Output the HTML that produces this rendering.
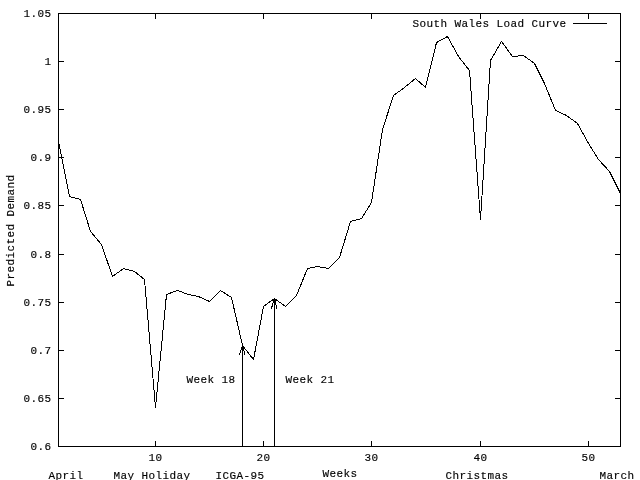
<!DOCTYPE html>
<html lang="en"><head><meta charset="utf-8"><title>South Wales Load Curve</title>
<style>
html,body{margin:0;padding:0;background:#fff;}
body{width:640px;height:480px;overflow:hidden;}
svg{display:block;will-change:transform;}
text{font-family:"Liberation Mono","DejaVu Sans Mono",monospace;font-size:11px;letter-spacing:0.4px;fill:#000;stroke:#000;stroke-width:0.15px;}
.ln{stroke:#000;stroke-width:1;fill:none;shape-rendering:crispEdges;}
</style></head><body>
<svg width="640" height="480" viewBox="0 0 640 480">
<g class="ln">
<rect x="58.5" y="13.5" width="562" height="433"/>
<line x1="58" y1="446.5" x2="64" y2="446.5"/>
<line x1="615" y1="446.5" x2="621" y2="446.5"/>
<line x1="58" y1="398.5" x2="64" y2="398.5"/>
<line x1="615" y1="398.5" x2="621" y2="398.5"/>
<line x1="58" y1="350.5" x2="64" y2="350.5"/>
<line x1="615" y1="350.5" x2="621" y2="350.5"/>
<line x1="58" y1="302.5" x2="64" y2="302.5"/>
<line x1="615" y1="302.5" x2="621" y2="302.5"/>
<line x1="58" y1="254.5" x2="64" y2="254.5"/>
<line x1="615" y1="254.5" x2="621" y2="254.5"/>
<line x1="58" y1="205.5" x2="64" y2="205.5"/>
<line x1="615" y1="205.5" x2="621" y2="205.5"/>
<line x1="58" y1="157.5" x2="64" y2="157.5"/>
<line x1="615" y1="157.5" x2="621" y2="157.5"/>
<line x1="58" y1="109.5" x2="64" y2="109.5"/>
<line x1="615" y1="109.5" x2="621" y2="109.5"/>
<line x1="58" y1="61.5" x2="64" y2="61.5"/>
<line x1="615" y1="61.5" x2="621" y2="61.5"/>
<line x1="58" y1="13.5" x2="64" y2="13.5"/>
<line x1="615" y1="13.5" x2="621" y2="13.5"/>
<line x1="155.5" y1="441" x2="155.5" y2="447"/>
<line x1="155.5" y1="13" x2="155.5" y2="19"/>
<line x1="263.5" y1="441" x2="263.5" y2="447"/>
<line x1="263.5" y1="13" x2="263.5" y2="19"/>
<line x1="371.5" y1="441" x2="371.5" y2="447"/>
<line x1="371.5" y1="13" x2="371.5" y2="19"/>
<line x1="480.5" y1="441" x2="480.5" y2="447"/>
<line x1="480.5" y1="13" x2="480.5" y2="19"/>
<line x1="588.5" y1="441" x2="588.5" y2="447"/>
<line x1="588.5" y1="13" x2="588.5" y2="19"/>
<line x1="573" y1="23.5" x2="607" y2="23.5"/>
<line x1="242.5" y1="345" x2="242.5" y2="446"/>
<line x1="242.5" y1="345" x2="239.5" y2="355"/>
<line x1="242.5" y1="345" x2="245.0" y2="355"/>
<line x1="274.5" y1="298" x2="274.5" y2="446"/>
<line x1="274.5" y1="298" x2="271.3" y2="309"/>
<line x1="274.5" y1="298" x2="276.9" y2="309"/>
<polyline points="58.5,141.5 69.5,196.5 80.5,199.5 90.5,231.5 101.5,244.5 112.5,276.5 123.5,268.5 134.5,271.5 144.5,279.5 155.5,407.5 166.5,294.5 177.5,290.5 188.5,294.5 198.5,296.5 209.5,301.5 220.5,290.5 231.5,297.5 242.5,345.5 253.5,359.5 263.5,306.5 274.5,298.5 285.5,306.5 296.5,295.5 307.5,268.5 317.5,266.5 328.5,268.5 339.5,257.5 350.5,221.5 361.5,218.5 371.5,202.5 382.5,129.5 393.5,95.5 404.5,87.5 415.5,78.5 425.5,87.5 436.5,42.5 447.5,36.5 458.5,56.5 469.5,70.5 480.5,219.5 490.5,60.5 501.5,41.5 512.5,56.5 523.5,55.5 534.5,63.5 544.5,83.5 555.5,110.5 566.5,115.5 577.5,123.5 588.5,143.5 598.5,159.5 609.5,171.5 620.5,193.5"/>
</g>
<text x="30.60" y="450.00">0.6</text>
<text x="23.60" y="402.00">0.65</text>
<text x="30.60" y="354.00">0.7</text>
<text x="23.60" y="306.00">0.75</text>
<text x="30.60" y="258.00">0.8</text>
<text x="23.60" y="209.00">0.85</text>
<text x="30.60" y="161.00">0.9</text>
<text x="23.60" y="113.00">0.95</text>
<text x="44.60" y="65.00">1</text>
<text x="23.60" y="17.00">1.05</text>
<text x="148.60" y="461.00">10</text>
<text x="256.60" y="461.00">20</text>
<text x="364.60" y="461.00">30</text>
<text x="473.60" y="461.00">40</text>
<text x="581.60" y="461.00">50</text>
<text x="48.60" y="479.00">April</text>
<text x="113.60" y="479.00">May Holiday</text>
<text x="215.60" y="479.00">ICGA-95</text>
<text x="322.60" y="477.00">Weeks</text>
<text x="445.60" y="479.00">Christmas</text>
<text x="599.60" y="479.00">March</text>
<text x="186.60" y="383.00">Week 18</text>
<text x="285.60" y="383.00">Week 21</text>
<text x="412.60" y="27.00">South Wales Load Curve</text>
<text transform="translate(14.00,286.40) rotate(-90)" x="0" y="0">Predicted Demand</text>
</svg>
</body></html>
